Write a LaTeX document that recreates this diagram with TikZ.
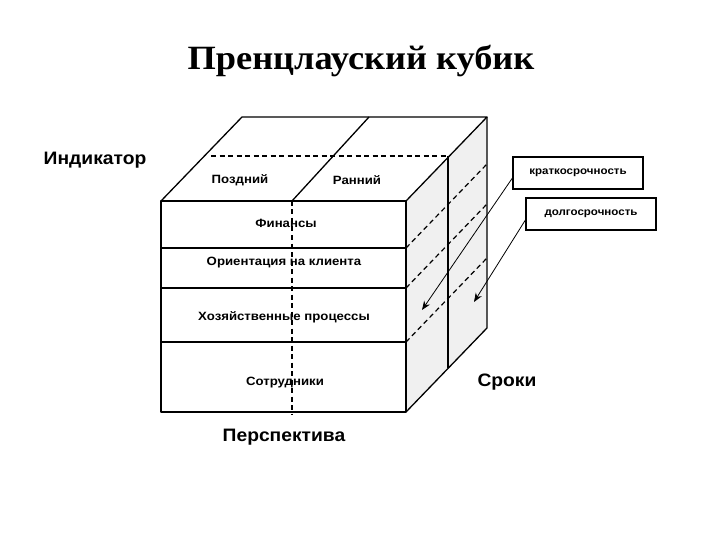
\documentclass[tikz,border=0pt]{standalone}
\usepackage{fontspec}
\setmainfont{Liberation Sans}
\newfontfamily\titlefont{Liberation Serif}
\usetikzlibrary{arrows.meta}
\definecolor{sidegray}{HTML}{F0F0F0}
\newcommand\myhs[2]{\scalebox{#1}[1]{#2}}
\begin{document}
\begin{tikzpicture}[x=1pt,y=-1pt,
  edge/.style={line width=1.3pt, line join=round},
  dsh/.style={line width=1.2pt, dash pattern=on 5pt off 3.5pt},
  lbl/.style={font=\bfseries\fontsize{12}{14}\selectfont, inner sep=0pt},
  big/.style={font=\bfseries\fontsize{18}{21}\selectfont, inner sep=0pt},
  tbox/.style={draw, line width=1.2pt, minimum width=130pt, minimum height=32pt, inner sep=0pt, font=\bfseries\fontsize{10.5}{12}\selectfont},
  arr/.style={-{Stealth[length=9pt,width=7pt]}, line width=0.8pt}]
\useasboundingbox (0,0) rectangle (720,540);
% corners
\coordinate (A) at (161,201);
\coordinate (B) at (406,201);
\coordinate (C) at (406,412);
\coordinate (D) at (161,412);
\coordinate (E) at (242,117);
\coordinate (F) at (487,117);
\coordinate (G) at (487,328);
% faces
\fill[sidegray] (B) -- (F) -- (G) -- (C) -- cycle;
% right face dashed continuations
\draw[dsh] (406,248) -- (487,164);
\draw[dsh] (406,288) -- (487,204);
\draw[dsh] (406,342) -- (487,258);
% slice plane
\draw[dsh] (211,156) -- (448,156);
\draw[line width=1.6pt] (448,156) -- (448,368);
% top divider
\draw[edge] (292,201) -- (369,117);
% front dashed vertical
\draw[dsh] (292,201) -- (292,414);
% front horizontals
\draw[edge] (161,248) -- (406,248);
\draw[edge] (161,288) -- (406,288);
\draw[edge] (161,342) -- (406,342);
% outlines
\draw[edge] (A) -- (B) -- (C) -- (D) -- cycle;
\draw[edge] (A) -- (E) -- (F) -- (B);
\draw[edge] (F) -- (G) -- (C);
% inner labels
\node[lbl] (late) at (240,180) {\myhs{1.1}{Поздний}};
\node[lbl] (early) at (357,180) {\myhs{1.1}{Ранний}};
\node[lbl] (fin) at (286,223) {\myhs{1.1}{Финансы}};
\node[lbl] (cli) at (284,263) {\myhs{1.1}{Ориентация на клиента}};
\node[lbl] (proc) at (284,317) {\myhs{1.1}{Хозяйственные процессы}};
\node[lbl] (staff) at (285,383) {\myhs{1.1}{Сотрудники}};
% big labels
\node[big] (ind) at (95,160) {\myhs{1.07}{Индикатор}};
\node[big] (persp) at (284,437) {\myhs{1.07}{Перспектива}};
\node[big] (terms) at (507,382) {\myhs{1.07}{Сроки}};
% title
\node[inner sep=0pt, anchor=base, font=\titlefont\bfseries\fontsize{34}{38}\selectfont] (title) at (361,70) {\myhs{1.07}{Пренцлауский кубик}};
% boxes
\node[tbox] (short) at (578,173) {\myhs{1.1}{краткосрочность}};
\node[tbox] (long) at (591,214) {\myhs{1.1}{долгосрочность}};
\coordinate (shortend) at (422,310);
\coordinate (longend) at (474,302);
\draw[arr] ([yshift=-5pt]short.west) -- (shortend);
\draw[arr] ([yshift=-6pt]long.west) -- (longend);
\end{tikzpicture}
\end{document}
